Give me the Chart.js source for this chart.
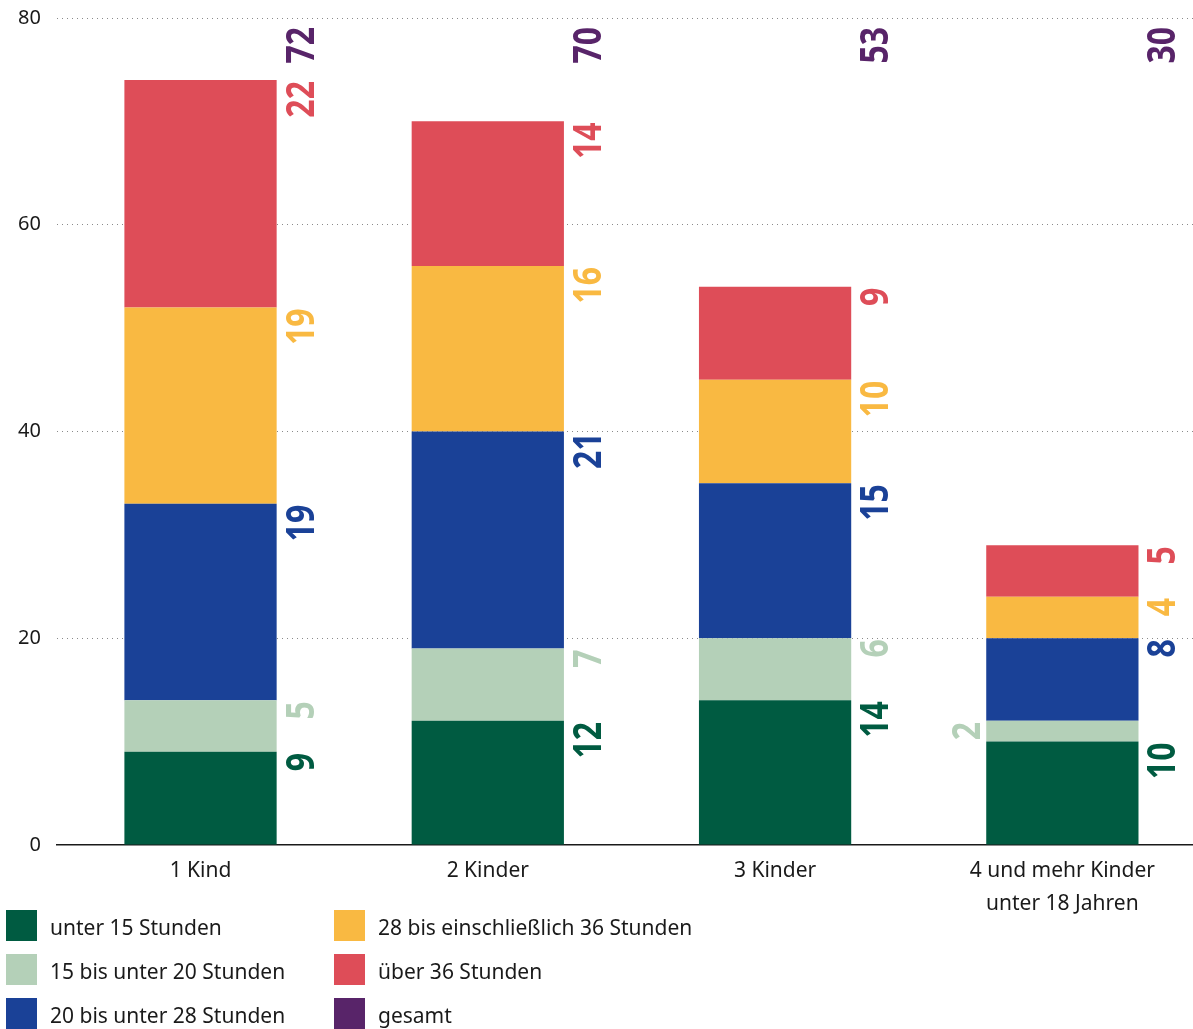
<!DOCTYPE html>
<html lang="de">
<head>
  <meta charset="UTF-8">
  <title>Arbeitszeit nach Kinderzahl</title>
  <script src="https://cdn.jsdelivr.net/npm/chart.js"></script>
  <style>
    html, body {
      margin: 0;
      padding: 0;
      background: #fff;
      overflow: hidden;
      font-family: "Noto Sans", sans-serif;
    }
    .chart-box {
      position: absolute;
      left: 0;
      top: -10px;
      width: 1206px;
      height: 940px;
    }
    #legend {
      position: absolute;
      left: 6px;
      top: 910px;
      display: grid;
      grid-template-rows: repeat(3, 44px);
      grid-auto-flow: column;
      grid-template-columns: 328px 400px;
    }
    .legend-item {
      display: flex;
      align-items: flex-start;
      font-size: 21px;
      color: #1a1a1a;
    }
    .legend-item .swatch {
      width: 31px;
      height: 31px;
      margin-right: 13px;
      flex: none;
    }
    .legend-item span {
      line-height: 31px;
      margin-top: 2px;
    }
  </style>
</head>
<body>
  <div class="chart-box">
    <canvas id="chart" width="1206" height="940"></canvas>
  </div>
  <div id="legend"></div>

  <script>
    // categories
    const categories = ['1 Kind', '2 Kinder', '3 Kinder', ['4 und mehr Kinder', 'unter 18 Jahren']];

    // series (stacked from bottom)
    const unter15 = [9, 12, 14, 10];
    const von15bis20 = [5, 7, 6, 2];
    const von20bis28 = [19, 21, 15, 8];
    const von28bis36 = [19, 16, 10, 4];
    const ueber36 = [22, 14, 9, 5];
    const gesamt = [72, 70, 53, 30];

    const yTicks = [0, 20, 40, 60, 80];

    const colors = {
      unter15: '#005b41',
      von15bis20: '#b4d0b8',
      von20bis28: '#1a4197',
      von28bis36: '#f9b942',
      ueber36: '#de4d58',
      gesamt: '#582469'
    };

    const datasets = [
      { label: 'unter 15 Stunden', data: unter15, backgroundColor: colors.unter15 },
      { label: '15 bis unter 20 Stunden', data: von15bis20, backgroundColor: colors.von15bis20 },
      { label: '20 bis unter 28 Stunden', data: von20bis28, backgroundColor: colors.von20bis28 },
      { label: '28 bis einschließlich 36 Stunden', data: von28bis36, backgroundColor: colors.von28bis36 },
      { label: 'über 36 Stunden', data: ueber36, backgroundColor: colors.ueber36 }
    ];

    // rotated value labels next to each segment, plus totals at the top
    const rotatedLabels = {
      id: 'rotatedLabels',
      afterDatasetsDraw(chart) {
        const ctx = chart.ctx;
        const area = chart.chartArea;

        function drawLabel(text, x, y, color) {
          ctx.save();
          ctx.translate(x, y);
          ctx.rotate(-Math.PI / 2);
          ctx.scale(0.8, 1);
          ctx.font = 'bold 40px "Noto Sans"';
          ctx.fillStyle = color;
          ctx.textAlign = 'right';
          ctx.textBaseline = 'alphabetic';
          ctx.fillText(text, 0, 0);
          ctx.restore();
        }

        chart.data.datasets.forEach((ds, i) => {
          const meta = chart.getDatasetMeta(i);
          meta.data.forEach((bar, j) => {
            const value = ds.data[j];
            const half = bar.width / 2;
            let x = bar.x + half + 37;
            if (value < 3) {
              // too small, put it on the left side of the bar
              x = bar.x - half - 6;
            }
            drawLabel(String(value), x, bar.y + 1, ds.backgroundColor);
          });
        });

        // totals
        const first = chart.getDatasetMeta(0);
        first.data.forEach((bar, j) => {
          drawLabel(String(gesamt[j]), bar.x + bar.width / 2 + 37, area.top + 9, colors.gesamt);
        });
      }
    };

    const ctx = document.getElementById('chart').getContext('2d');
    new Chart(ctx, {
      type: 'bar',
      data: {
        labels: categories,
        datasets: datasets
      },
      options: {
        responsive: false,
        animation: false,
        layout: {
          padding: { top: 8, left: 2, right: 0, bottom: 0 }
        },
        datasets: {
          bar: {
            barPercentage: 0.53,
            categoryPercentage: 1.0
          }
        },
        scales: {
          x: {
            stacked: true,
            grid: { display: false, drawTicks: false },
            border: { display: true, color: '#1a1a1a', width: 1.5 },
            ticks: {
              color: '#1a1a1a',
              font: { family: '"Noto Sans"', size: 21, lineHeight: 1.55 },
              padding: 10,
              maxRotation: 0
            }
          },
          y: {
            stacked: true,
            min: 0,
            max: 80,
            afterBuildTicks(scale) {
              scale.ticks = yTicks.map(v => ({ value: v }));
            },
            grid: {
              color: '#8a8a8a',
              lineWidth: 1,
              drawTicks: false
            },
            border: { display: false, dash: [1, 4] },
            ticks: {
              color: '#1a1a1a',
              font: { family: '"Noto Sans"', size: 20 },
              padding: 16
            }
          }
        },
        plugins: {
          legend: { display: false },
          tooltip: { enabled: false }
        }
      },
      plugins: [rotatedLabels]
    });

    // legend (column-major, two columns)
    const legendEl = document.getElementById('legend');
    const legendItems = datasets.map(d => ({ label: d.label, color: d.backgroundColor }));
    legendItems.push({ label: 'gesamt', color: colors.gesamt });
    legendItems.forEach(item => {
      const div = document.createElement('div');
      div.className = 'legend-item';
      div.innerHTML = '<div class="swatch" style="background:' + item.color + '"></div><span>' + item.label + '</span>';
      legendEl.appendChild(div);
    });
  </script>
</body>
</html>
